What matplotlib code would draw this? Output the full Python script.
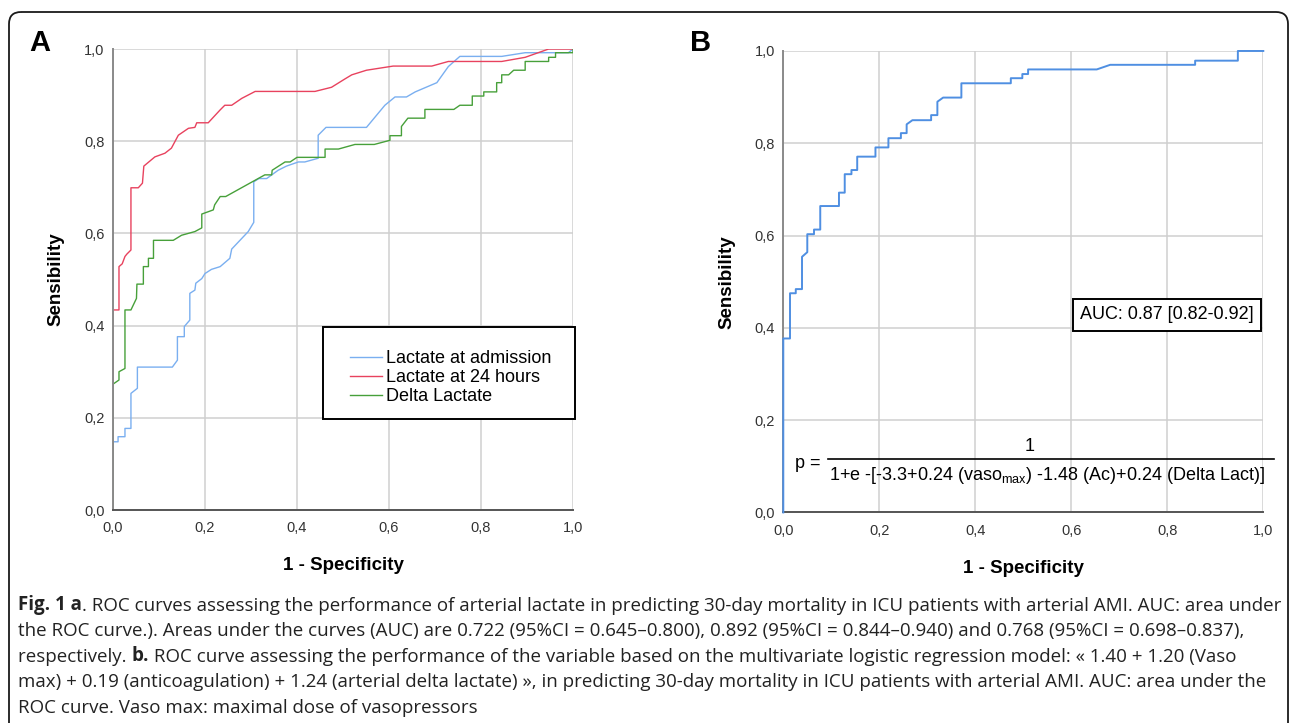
import matplotlib
matplotlib.use('Agg')
import matplotlib.pyplot as plt
from matplotlib.patches import FancyBboxPatch, Rectangle
from matplotlib.lines import Line2D

plt.rcParams['font.family'] = ['Liberation Sans', 'DejaVu Sans']
plt.rcParams['mathtext.default'] = 'regular'

# ---- data (1 - specificity, sensitivity) ----
adm_fpr = [0, 0, 0.011, 0.011, 0.026, 0.026, 0.039, 0.039, 0.053, 0.053, 0.129, 0.14, 0.14, 0.155, 0.155,
           0.167, 0.167, 0.178, 0.18, 0.193, 0.2, 0.214, 0.233, 0.254, 0.258, 0.294, 0.306, 0.306, 0.317,
           0.334, 0.359, 0.377, 0.403, 0.417, 0.446, 0.446, 0.463, 0.551, 0.591, 0.613, 0.638, 0.657, 0.704,
           0.729, 0.754, 0.845, 0.896, 0.99, 1.0]
adm_tpr = [0, 0.148, 0.148, 0.159, 0.159, 0.177, 0.177, 0.253, 0.264, 0.31, 0.31, 0.325, 0.376, 0.376, 0.398,
           0.412, 0.47, 0.477, 0.492, 0.502, 0.513, 0.522, 0.528, 0.546, 0.566, 0.604, 0.624, 0.712, 0.719,
           0.719, 0.737, 0.746, 0.755, 0.755, 0.763, 0.813, 0.83, 0.83, 0.878, 0.896, 0.896, 0.907, 0.927,
           0.962, 0.984, 0.984, 0.992, 0.992, 1.0]

h24_fpr = [0, 0, 0, 0.013, 0.013, 0.02, 0.026, 0.03, 0.039, 0.039, 0.055, 0.064, 0.067, 0.091, 0.113, 0.127,
           0.142, 0.164, 0.178, 0.182, 0.207, 0.233, 0.243, 0.258, 0.28, 0.309, 0.439, 0.475, 0.504, 0.519,
           0.551, 0.609, 0.693, 0.729, 0.845, 0.896, 0.947, 1.0]
h24_tpr = [0, 0.275, 0.434, 0.434, 0.528, 0.534, 0.55, 0.555, 0.564, 0.699, 0.699, 0.709, 0.746, 0.766, 0.774,
           0.785, 0.813, 0.828, 0.83, 0.84, 0.84, 0.868, 0.878, 0.878, 0.893, 0.908, 0.908, 0.917, 0.935,
           0.944, 0.954, 0.963, 0.963, 0.973, 0.973, 0.982, 1.0, 1.0]

dlt_fpr = [0, 0, 0.013, 0.013, 0.026, 0.026, 0.039, 0.051, 0.052, 0.066, 0.066, 0.077, 0.077, 0.088, 0.088,
           0.131, 0.149, 0.178, 0.193, 0.193, 0.218, 0.221, 0.233, 0.245, 0.33, 0.345, 0.346, 0.374, 0.385,
           0.4, 0.461, 0.461, 0.49, 0.526, 0.568, 0.602, 0.602, 0.627, 0.627, 0.641, 0.678, 0.678, 0.741,
           0.754, 0.781, 0.781, 0.806, 0.806, 0.834, 0.834, 0.845, 0.845, 0.86, 0.871, 0.896, 0.896, 0.947,
           0.947, 0.962, 0.962, 1.0, 1.0]
dlt_tpr = [0, 0.273, 0.282, 0.3, 0.307, 0.434, 0.434, 0.459, 0.49, 0.49, 0.528, 0.528, 0.546, 0.546, 0.585,
           0.585, 0.596, 0.604, 0.612, 0.642, 0.651, 0.662, 0.68, 0.68, 0.727, 0.727, 0.737, 0.755, 0.755,
           0.765, 0.765, 0.783, 0.783, 0.793, 0.793, 0.802, 0.812, 0.812, 0.832, 0.85, 0.85, 0.869, 0.869,
           0.878, 0.878, 0.898, 0.898, 0.907, 0.907, 0.927, 0.927, 0.944, 0.944, 0.954, 0.954, 0.973, 0.973,
           0.982, 0.982, 0.992, 0.992, 1.0]

model_fpr = [0, 0, 0.014, 0.014, 0.026, 0.026, 0.039, 0.039, 0.05, 0.05, 0.064, 0.064, 0.077, 0.077, 0.116,
             0.116, 0.128, 0.128, 0.142, 0.142, 0.154, 0.154, 0.192, 0.192, 0.219, 0.219, 0.245, 0.245,
             0.257, 0.257, 0.269, 0.308, 0.308, 0.321, 0.321, 0.333, 0.371, 0.371, 0.474, 0.474, 0.498,
             0.498, 0.51, 0.51, 0.653, 0.681, 0.858, 0.858, 0.947, 0.947, 1.0]
model_tpr = [0, 0.377, 0.377, 0.475, 0.475, 0.484, 0.484, 0.554, 0.564, 0.603, 0.603, 0.613, 0.613, 0.664,
             0.664, 0.693, 0.693, 0.733, 0.733, 0.742, 0.742, 0.771, 0.771, 0.791, 0.791, 0.811, 0.811,
             0.822, 0.822, 0.841, 0.85, 0.85, 0.861, 0.861, 0.89, 0.899, 0.899, 0.93, 0.93, 0.941, 0.941,
             0.95, 0.95, 0.96, 0.96, 0.97, 0.97, 0.979, 0.979, 1.0, 1.0]

ticks = [0, 0.2, 0.4, 0.6, 0.8, 1.0]
tick_labels = ['0,0', '0,2', '0,4', '0,6', '0,8', '1,0']

caption = [
    [('Fig. 1 a', 'bold'), ('. ROC curves assessing the performance of arterial lactate in predicting 30-day '
                            'mortality in ICU patients with arterial AMI. AUC: area under', 'normal')],
    [('the ROC curve.). Areas under the curves (AUC) are 0.722 (95%CI = 0.645\u20130.800), 0.892 '
      '(95%CI = 0.844\u20130.940) and 0.768 (95%CI = 0.698\u20130.837),', 'normal')],
    [('respectively. ', 'normal'), ('b.', 'bold'),
     (' ROC curve assessing the performance of the variable based on the multivariate logistic '
      'regression model: \u00ab 1.40 + 1.20 (Vaso', 'normal')],
    [('max) + 0.19 (anticoagulation) + 1.24 (arterial delta lactate) \u00bb, in predicting 30-day mortality '
      'in ICU patients with arterial AMI. AUC: area under the', 'normal')],
    [('ROC curve. Vaso max: maximal dose of vasopressors', 'normal')],
]


def style_roc_axes(ax):
    ax.set_xlim(0, 1)
    ax.set_ylim(0, 1)
    ax.set_xticks(ticks)
    ax.set_xticklabels(tick_labels)
    ax.set_yticks(ticks)
    ax.set_yticklabels(tick_labels)
    ax.tick_params(length=0, labelsize=10.5, labelcolor='#333333')
    ax.tick_params(axis='x', pad=8)
    ax.tick_params(axis='y', pad=6)
    ax.grid(True, color='#cfcfcf', lw=1.1)
    ax.set_axisbelow(True)
    for side in ('top', 'right'):
        ax.spines[side].set_visible(False)
    ax.spines['left'].set_color('#8a8a8a')
    ax.spines['bottom'].set_color('#555555')
    ax.spines['left'].set_linewidth(1.4)
    ax.spines['bottom'].set_linewidth(1.4)
    ax.set_xlabel('1 - Specificity', fontsize=13.5, fontweight='bold', labelpad=16)
    ax.set_ylabel('Sensibility', fontsize=13.5, fontweight='bold', labelpad=14)


fig = plt.figure(figsize=(12.9, 7.23), dpi=100)

# background layer in pixel coordinates: frame, panel letters, caption
bg = fig.add_axes([0, 0, 1, 1], zorder=-1)
bg.set_xlim(0, 1290)
bg.set_ylim(723, 0)
bg.axis('off')
bg.add_patch(FancyBboxPatch((9, 12), 1279, 760, boxstyle='round,pad=0,rounding_size=12',
                            fill=False, ec='#1a1a1a', lw=1.3, clip_on=False))
bg.text(40, 43, 'A', fontsize=21, fontweight='bold', ha='center', va='center')
bg.text(701, 43, 'B', fontsize=21, fontweight='bold', ha='center', va='center')

cap_font = ['Open Sans', 'DejaVu Sans']
cap_texts = []
for i, line in enumerate(caption):
    y = 610 + i * 25.8
    prev = None
    for txt, weight in line:
        if prev is None:
            prev = bg.text(18, y, txt, fontsize=12, fontweight=weight, family=cap_font,
                           ha='left', va='baseline', color='#222222')
        else:
            prev = bg.annotate(txt, xy=(1, 0), xycoords=prev, fontsize=12, fontweight=weight,
                               family=cap_font, ha='left', va='bottom', color='#222222')
        cap_texts.append((i, prev))

# panel A
axA = fig.add_axes([0.0876, 0.2946, 0.3566, 0.6376])
style_roc_axes(axA)
axA.plot(adm_fpr, adm_tpr, color='#7aaff0', lw=1.0, label='Lactate at admission')
axA.plot(h24_fpr, h24_tpr, color='#e8425e', lw=1.0, label='Lactate at 24 hours')
axA.plot(dlt_fpr, dlt_tpr, color='#47a03a', lw=1.0, label='Delta Lactate')
axA.add_patch(Rectangle((0.457, 0.197), 0.547, 0.2, transform=axA.transAxes, fc='white',
                        ec='black', lw=1.4, clip_on=False, zorder=4))
axA.legend(loc='center left', bbox_to_anchor=(0.515, 0.287), frameon=False, fontsize=13,
           labelspacing=0.12, handlelength=1.75, handletextpad=0.25, borderpad=0,
           borderaxespad=0).set_zorder(5)

# panel B
axB = fig.add_axes([0.6072, 0.2912, 0.3721, 0.6383])
style_roc_axes(axB)
axB.plot(model_fpr, model_tpr, color='#4f8fe2', lw=1.4, clip_on=False, zorder=3)
axB.text(0.799, 0.428, 'AUC: 0.87 [0.82-0.92]', transform=axB.transAxes, fontsize=13,
         ha='center', va='center',
         bbox=dict(boxstyle='square,pad=0.4', fc='white', ec='black', lw=1.4), zorder=5)
axB.text(0.024, 0.107, 'p =', transform=axB.transAxes, fontsize=13, ha='left', va='center')
axB.text(0.514, 0.142, '1', transform=axB.transAxes, fontsize=13, ha='center', va='center')
axB.text(0.549, 0.081, '1+e -[-3.3+0.24 (vaso$_{max}$) -1.48 (Ac)+0.24 (Delta Lact)]',
         transform=axB.transAxes, fontsize=13, ha='center', va='center')
axB.add_line(Line2D([0.093, 1.022], [0.116, 0.116], transform=axB.transAxes, color='black',
                    lw=1.2, clip_on=False))

# scale the caption so its first line spans the same width as in the reference
fig.canvas.draw()
renderer = fig.canvas.get_renderer()
first = [t for i, t in cap_texts if i == 0]
x0 = first[0].get_window_extent(renderer).x0
x1 = first[-1].get_window_extent(renderer).x1
scale = 1258.0 / (x1 - x0)
for _, t in cap_texts:
    t.set_fontsize(12 * scale)

fig.savefig('out.png', dpi=100)
